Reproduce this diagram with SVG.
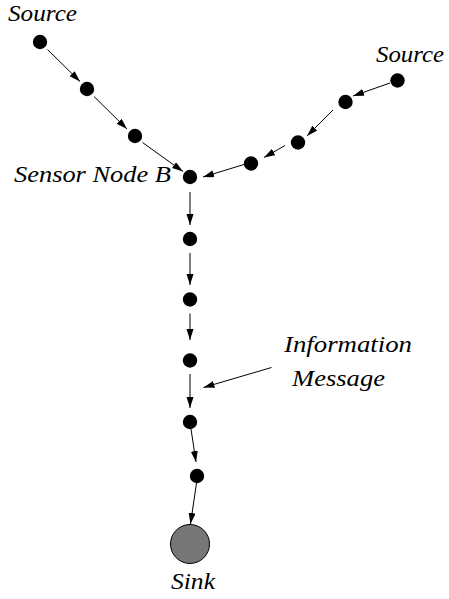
<svg xmlns="http://www.w3.org/2000/svg" width="449" height="599" viewBox="0 0 449 599">
<style>
.dot{fill:#000}
.sink{fill:#777;stroke:#000;stroke-width:1}
.lbl{font-family:"Liberation Serif","Times New Roman",serif;font-style:italic;font-size:24px;fill:#000}
.edge{stroke:#000;stroke-width:1;fill:none;marker-end:url(#ah)}
</style>
<defs>
<marker id="ah" markerUnits="userSpaceOnUse" markerWidth="12" markerHeight="8" refX="11" refY="3.5" orient="auto">
<path d="M0,0 L11,3.5 L0,7 z" fill="#000"/>
</marker>
</defs>
<rect width="449" height="599" fill="#fff"/>
<g id="connectors">
<line class="edge" x1="47.5" y1="49.5" x2="80" y2="81.5"/>
<line class="edge" x1="94" y1="96.5" x2="127" y2="129"/>
<line class="edge" x1="142.5" y1="142.5" x2="183" y2="171.5"/>
<line class="edge" x1="390" y1="83" x2="353" y2="96"/>
<line class="edge" x1="333" y1="110" x2="307" y2="136"/>
<line class="edge" x1="285" y1="145.5" x2="264" y2="157.5"/>
<line class="edge" x1="244" y1="164.5" x2="203" y2="177"/>
<line class="edge" x1="190" y1="192" x2="190" y2="225"/>
<line class="edge" x1="190" y1="253" x2="190" y2="285"/>
<line class="edge" x1="190" y1="313.5" x2="190" y2="340"/>
<line class="edge" x1="190" y1="374" x2="190" y2="408"/>
<line class="edge" x1="191" y1="429" x2="196" y2="462"/>
<line class="edge" x1="196.5" y1="483" x2="190.5" y2="524"/>
<line class="edge" x1="271.5" y1="367.5" x2="203.5" y2="387.5"/>
</g>
<g id="source-left"><circle class="dot" cx="40" cy="42" r="7.2"/><text class="lbl" x="8" y="21" textLength="69" lengthAdjust="spacingAndGlyphs">Source</text></g>
<g id="n-l1"><circle class="dot" cx="87" cy="89" r="7.2"/></g>
<g id="n-l2"><circle class="dot" cx="135" cy="136" r="7.2"/></g>
<g id="source-right"><circle class="dot" cx="397.5" cy="80.5" r="7.2"/><text class="lbl" x="376" y="61.5" textLength="68" lengthAdjust="spacingAndGlyphs">Source</text></g>
<g id="n-r1"><circle class="dot" cx="345.5" cy="102" r="7.2"/></g>
<g id="n-r2"><circle class="dot" cx="298" cy="142.5" r="7.2"/></g>
<g id="n-r3"><circle class="dot" cx="251" cy="163.5" r="7.2"/></g>
<g id="sensor-node-b"><circle class="dot" cx="190" cy="177" r="7.2"/><text class="lbl" x="14" y="182" textLength="157" lengthAdjust="spacingAndGlyphs">Sensor Node B</text></g>
<g id="n-v1"><circle class="dot" cx="190" cy="239" r="7.2"/></g>
<g id="n-v2"><circle class="dot" cx="190" cy="299.5" r="7.2"/></g>
<g id="n-v3"><circle class="dot" cx="190" cy="360.5" r="7.2"/></g>
<g id="n-v4"><circle class="dot" cx="190" cy="422" r="7.2"/></g>
<g id="n-v5"><circle class="dot" cx="197" cy="476" r="7.2"/></g>
<g id="sink"><circle class="sink" cx="190" cy="544" r="19.5"/><text class="lbl" x="171" y="588.5" textLength="44" lengthAdjust="spacingAndGlyphs">Sink</text></g>
<g id="info-label"><text class="lbl" x="284" y="352" textLength="128" lengthAdjust="spacingAndGlyphs">Information</text><text class="lbl" x="292" y="386" textLength="93" lengthAdjust="spacingAndGlyphs">Message</text></g>
</svg>
